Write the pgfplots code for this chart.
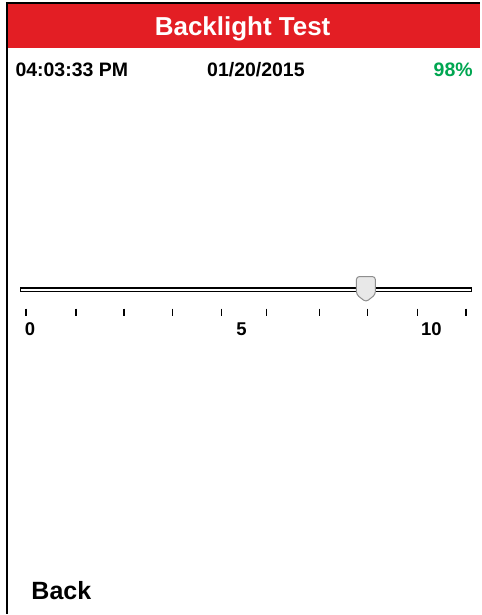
\documentclass[border=0pt]{standalone}
\usepackage{pgfplots}
\pgfplotsset{compat=1.18}
\usepackage{fontspec}
\setmainfont{Liberation Sans}
\definecolor{hdrred}{HTML}{E31E24}
\definecolor{pctgreen}{HTML}{00A651}
\definecolor{thumbfill}{HTML}{E8E8E8}
\definecolor{thumbdraw}{HTML}{8E8E8E}
\begin{document}
\begin{tikzpicture}
\begin{axis}[
  scale only axis, width=481pt, height=615pt,
  xmin=0, xmax=481, ymin=0, ymax=615, y dir=reverse,
  axis lines=none, clip=false,
  every node/.style={inner sep=0pt, outer sep=0pt, font=\bfseries},
]
% background
\addplot[fill=white, draw=none] coordinates {(0,0)(481,0)(481,615)(0,615)} --cycle;
% header bar
\addplot[fill=hdrred, draw=none] coordinates {(7,3)(481,3)(481,48.5)(7,48.5)} --cycle;
% frame lines
\addplot[black, line width=1.6pt] coordinates {(6,3)(481,3)};
\addplot[black, line width=2pt] coordinates {(7,2.2)(7,615)};
% slider track
\addplot[fill=white, draw=black, line width=1.4pt] coordinates {(20.7,288.4)(472.3,288.4)(472.3,291.8)(20.7,291.8)} --cycle;
% slider ticks
\addplot[black, line width=1.5pt, unbounded coords=jump] coordinates {
(26,309)(26,317)(26,nan)
(76,309)(76,317)(76,nan)
(124,309)(124,317)(124,nan)
(173,309)(173,317)(173,nan)
(222,309)(222,317)(222,nan)
(267,309)(267,317)(267,nan)
(320,309)(320,317)(320,nan)
(368,309)(368,317)(368,nan)
(418,309)(418,317)(418,nan)
(467,309)(467,317)};
% slider thumb
\addplot[fill=thumbfill, draw=thumbdraw, line width=1pt, rounded corners=3pt] coordinates {
(357,277)(376,277)(376,295)(366.5,302.5)(357,295)} --cycle;
% texts
\node[anchor=base, text=white, font=\fontsize{26}{30}\selectfont\bfseries] at (axis cs:243,36) {Backlight Test};
\node[anchor=base west, font=\fontsize{19.5}{23}\selectfont\bfseries] at (axis cs:12,77) {04:03:33 PM};
\node[anchor=base west, font=\fontsize{19.5}{23}\selectfont\bfseries] at (axis cs:204,77) {01/20/2015};
\node[anchor=base east, text=pctgreen, font=\fontsize{19.5}{23}\selectfont\bfseries] at (axis cs:477,77) {98\%};
\node[anchor=base, font=\fontsize{18.5}{22}\selectfont\bfseries] at (axis cs:30,336) {0};
\node[anchor=base, font=\fontsize{18.5}{22}\selectfont\bfseries] at (axis cs:242,336) {5};
\node[anchor=base, font=\fontsize{18.5}{22}\selectfont\bfseries] at (axis cs:432,336) {10};
\node[anchor=base west, font=\fontsize{25}{30}\selectfont\bfseries] at (axis cs:28,600) {Back};
\end{axis}
\end{tikzpicture}
\end{document}
